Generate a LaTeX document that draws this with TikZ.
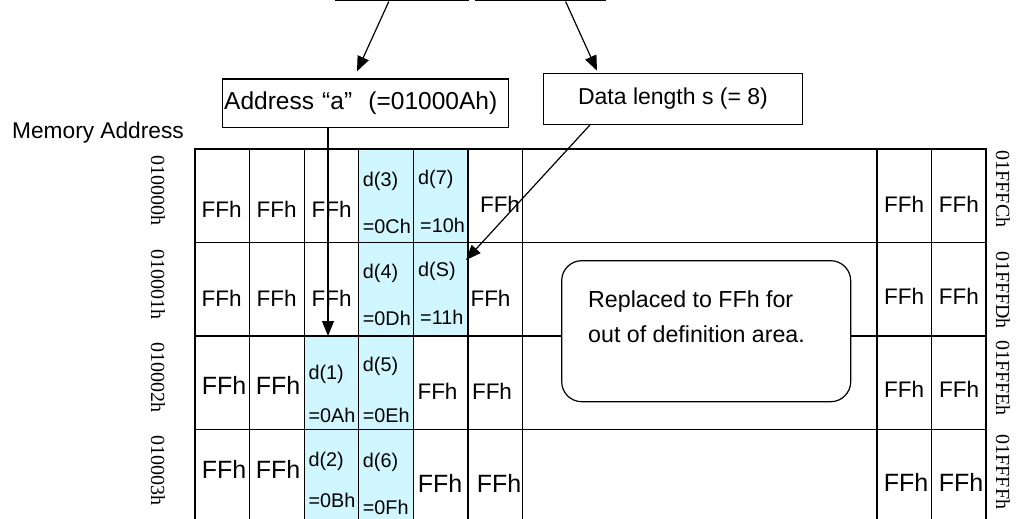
\documentclass[tikz,border=0pt]{standalone}
\usepackage{fontspec}
\setmainfont{Liberation Sans}
\newfontfamily\addrfont{Liberation Serif}
\usetikzlibrary{arrows.meta}
\definecolor{datablue}{RGB}{208,246,255}

\begin{document}
\begin{tikzpicture}[x=1pt, y=-1pt,
	cell/.style={draw, line width=1.2pt, minimum width=54.6pt, minimum height=93.5pt, inner sep=0pt, outer sep=0pt},
	ffh/.style={font=\fontsize{22.5}{26}\selectfont, inner sep=0pt},
	ffhbig/.style={font=\fontsize{25}{28}\selectfont, inner sep=0pt},
	dlab/.style={font=\fontsize{19.8}{23}\selectfont, anchor=west, inner sep=0pt},
	addrlab/.style={font=\addrfont\fontsize{20}{24}\selectfont, rotate=-90, inner sep=0pt},
	arr/.style={line width=1.2pt, -{Triangle[length=15pt,width=12pt]}}]
		\useasboundingbox (0,0) rectangle (1021,519);
		\clip (0,0) rectangle (1021,519);

		% Memory cells
		\foreach \row in {0,...,3}{
			\foreach \col in {0,...,5}
				\node[cell] (c\row-\col) at ({222.3+54.6*\col},{195.75+93.5*\row}) {};
			\node[cell, minimum width=354.4pt] (c\row-6) at (699.8,{195.75+93.5*\row}) {};
			\foreach \col in {7,8}
				\node[cell, minimum width=54.5pt] (c\row-\col) at ({904.25+54.5*(\col-7)},{195.75+93.5*\row}) {};
		}

		% Data cells
		\node[cell, fill=datablue] (d3) at (c0-3) {};
		\node[cell, fill=datablue] (d7) at (c0-4) {};
		\node[cell, fill=datablue] (d4) at (c1-3) {};
		\node[cell, fill=datablue] (dS) at (c1-4) {};
		\node[cell, fill=datablue] (d1) at (c2-2) {};
		\node[cell, fill=datablue] (d5) at (c2-3) {};
		\node[cell, fill=datablue] (d2) at (c3-2) {};
		\node[cell, fill=datablue] (d6) at (c3-3) {};

		% Data values
		\node[dlab] (t3) at (362.7,181.3) {d(3)};
		\node[dlab] (v3) at (362.7,226.7) {=0Ch};
		\node[dlab] (t7) at (418,179) {d(7)};
		\node[dlab] (v7) at (420,225.8) {=10h};
		\node[dlab] (t4) at (362.7,273) {d(4)};
		\node[dlab] (v4) at (362.7,318) {=0Dh};
		\node[dlab] (tS) at (418,271.7) {d(S)};
		\node[dlab] (vS) at (420,317.5) {=11h};
		\node[dlab] (t1) at (308.3,374) {d(1)};
		\node[dlab] (v1) at (308.3,415.8) {=0Ah};
		\node[dlab] (t5) at (362.7,366.7) {d(5)};
		\node[dlab] (v5) at (362.7,415.8) {=0Eh};
		\node[dlab] (t2) at (308.3,461.7) {d(2)};
		\node[dlab] (v2) at (308.3,500.8) {=0Bh};
		\node[dlab] (t6) at (362.7,462.5) {d(6)};
		\node[dlab] (v6) at (362.7,507.5) {=0Fh};

		% Filler values
		\foreach \x/\y [count=\i] in {221.7/209.8, 276.7/209.8, 331.7/209.8, 500/204,
			221.7/298, 276.7/298, 331.7/298, 490.5/298, 437.5/391.7, 492/391.7,
			904/204, 958.8/204, 904/296, 958.8/296, 904/389, 959/389}
			\node[ffh] (ff\i) at (\x,\y) {FFh};
		\foreach \x/\y [count=\i] in {224/385, 278/385, 224/469, 278/469, 440/483, 499/483, 906/482, 961/482}
			\node[ffhbig] (fb\i) at (\x,\y) {FFh};

		% Addresses
		\node[anchor=west, inner sep=0pt, font=\fontsize{22.7}{26}\selectfont] (memlab) at (12,133) {Memory Address};
		\foreach \y [count=\i from 0] in {190,284,377,470}
			\node[addrlab] (la\i) at (158,\y) {01000\i h};
		\foreach \y/\t [count=\i from 0] in {189/01FFFCh, 290/01FFFDh, 378/01FFFEh, 472/01FFFFh}
			\node[addrlab] (ra\i) at (1003,\y) {\t};

		% Note
		\node[draw, line width=1.2pt, fill=white, rounded corners=20pt, minimum width=289pt, minimum height=141pt] (note) at (706.2,331.2) {};
		\node[anchor=north west, align=left, inner sep=0pt, font=\fontsize{23.2}{34.5}\selectfont] (notetext) at (588,290.5) {Replaced to FFh for\\out of definition area.};

		% Parameters
		\node[draw, line width=1.2pt, anchor=south west, minimum width=133pt, minimum height=60pt, inner sep=0pt] (srcA) at (335,1.5) {};
		\node[draw, line width=1.2pt, anchor=south west, minimum width=130pt, minimum height=60pt, inner sep=0pt] (srcB) at (475,1.5) {};
		\node[draw, line width=1.2pt, minimum width=285.6pt, minimum height=48.7pt, text width=282.6pt, inner xsep=1.5pt, align=left, font=\fontsize{24.5}{28}\selectfont] (addr) at (365.5,103.3) {Address “a”\ \ (=01000Ah)};
		\node[draw, line width=1.2pt, minimum width=259.4pt, minimum height=51pt, font=\fontsize{23}{27}\selectfont] (dlen) at (673,98.8) {Data length s (= 8)};

		% Arrows
		\draw[arr] ([xshift=-13.3pt]srcA.south) -- ([xshift=-8.5pt,yshift=7pt]addr.north);
		\draw[arr] ([xshift=25pt]srcB.south) -- ([xshift=-76pt,yshift=2pt]dlen.north);
		\draw[arr] ([xshift=-37.5pt]addr.south) -- ([xshift=-3.5pt]d1.north);
		\draw[arr] ([xshift=-83pt]dlen.south) -- ([xshift=-2pt,yshift=-17.5pt]dS.north east);
	\end{tikzpicture}
\end{document}
